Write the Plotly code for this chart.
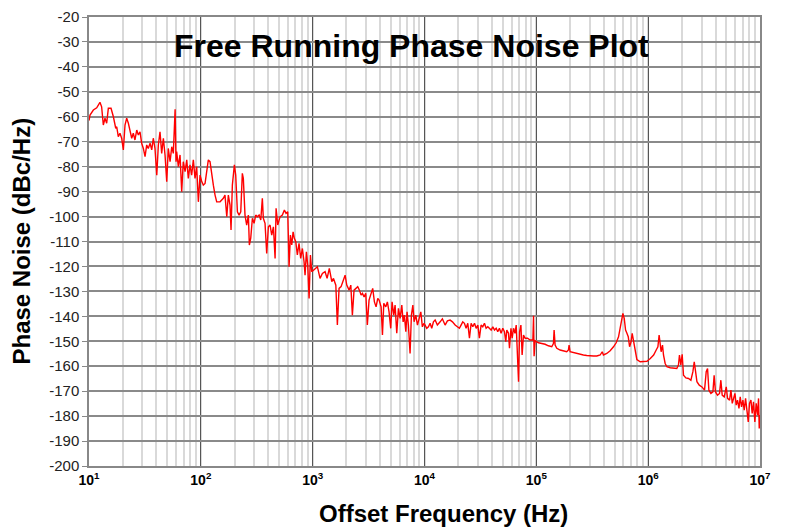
import plotly.graph_objects as go

# Offset frequency (Hz)
offset_hz = [
    10.0, 10.21, 10.94, 11.72, 12.53, 12.97, 13.43, 13.90, 14.39, 14.89,
    15.74, 16.52, 17.34, 17.70, 18.28, 18.92, 19.59, 20.28, 20.99, 21.73,
    22.49, 23.28, 24.10, 24.89, 25.76, 26.73, 27.61, 28.58, 29.58, 30.62,
    31.70, 32.81, 33.88, 35.16, 36.39, 37.58, 38.90, 40.36, 41.69, 43.15,
    44.67, 46.24, 47.86, 49.55, 51.17, 53.09, 54.95, 56.75, 58.88, 60.0,
    60.81, 62.95, 65.16, 67.45, 69.66, 72.28, 74.82, 77.27, 79.98, 82.79,
    85.70, 88.72, 91.83, 95.06, 98.40, 101.9, 105.2, 109.1, 113.0, 116.7,
    120.8, 125.0, 129.4, 134.0, 138.7, 148.6, 158.9, 164.4, 170.6, 176.2,
    182.4, 186.2, 191.4, 199.5, 205.1, 212.3, 219.8, 227.5, 235.0, 239.9,
    248.3, 257.0, 266.1, 271.6, 279.3, 289.1, 299.2, 309.7, 319.9, 331.9,
    343.6, 354.8, 362.2, 375.0, 388.1, 401.8, 415.9, 430.5, 445.6, 461.3,
    470.9, 487.5, 510.5, 535.8, 558.5, 578.1, 598.4, 615.2, 632.4, 650.1,
    668.3, 685.5, 706.3, 729.5, 755.1, 781.6, 809.1, 837.5, 855.1, 879.0,
    903.6, 929.0, 955.0, 981.7, 1050, 1102, 1164, 1222, 1291, 1346,
    1409, 1483, 1535, 1611, 1663, 1722, 1795, 1858, 1950, 2018,
    2118, 2193, 2265, 2344, 2427, 2529, 2618, 2710, 2786, 2884,
    2985, 3083, 3192, 3311, 3443, 3565, 3690, 3819, 3926, 4093,
    4207, 4325, 4508, 4656, 4819, 4989, 5129, 5309, 5458, 5649,
    5848, 6053, 6266, 6442, 6607, 6808, 6982, 7178, 7430, 7638,
    7870, 8072, 8356, 8650, 8954, 9268, 9572, 9908, 10120, 10470,
    10840, 11220, 11610, 12020, 12450, 13030, 13800, 14450, 15280, 16030,
    16940, 17780, 18790, 19680, 20510, 21230, 21980, 22750, 23550, 24380,
    25230, 26120, 27040, 27990, 28970, 29990, 30970, 32060, 33190, 34360,
    35560, 36810, 38110, 39450, 40830, 42270, 43750, 45190, 46770, 48420,
    50120, 51880, 53330, 54450, 56360, 57540, 59290, 60810, 62520, 64420,
    66070, 67450, 69340, 70790, 72780, 74650, 76740, 79430, 83370, 88100,
    93110, 94410, 95500, 97500, 100000, 104500, 111900, 119900, 128200, 137400,
    142200, 144200, 147200, 152400, 163300, 174600, 187100, 193600, 196300, 200400,
    214800, 230100, 246600, 263600, 282500, 302700, 324300, 347500, 372400, 388200,
    398100, 426600, 457100, 489800, 517600, 543300, 562300, 582100, 594300, 610900,
    628100, 645700, 663700, 682300, 703100, 719500, 741300, 765600, 792500, 849200,
    909900, 975000, 1045000, 1119000, 1180000, 1222000, 1253000, 1279000, 1306000, 1343000,
    1371000, 1419000, 1469000, 1574000, 1683000, 1803000, 1866000, 1905000, 1959000, 2014000,
    2070000, 2173000, 2296000, 2410000, 2512000, 2582000, 2655000, 2729000, 2864000, 3027000,
    3192000, 3304000, 3396000, 3491000, 3639000, 3793000, 3890000, 3999000, 4169000, 4345000,
    4467000, 4592000, 4786000, 4989000, 5129000, 5346000, 5495000, 5649000, 5808000, 5970000,
    6124000, 6295000, 6486000, 6653000, 6839000, 7031000, 7228000, 7430000, 7638000, 7852000,
    8054000, 8299000, 8511000, 8750000, 8995000, 9247000, 9506000, 9705000, 9840000, 10000000,
]

# Phase noise (dBc/Hz)
phase_noise = [
    -61.5, -59.3, -57.3, -56.4, -54.2, -56.0, -63.3, -60.6, -62.6, -56.6,
    -56.6, -60.0, -64.6, -64.0, -68.0, -66.6, -68.6, -73.3, -63.3, -60.6,
    -62.6, -66.0, -68.6, -66.6, -69.3, -65.3, -67.3, -66.0, -70.6, -72.7,
    -76.0, -71.3, -72.7, -70.6, -73.3, -68.6, -72.7, -83.4, -71.3, -66.0,
    -74.7, -68.6, -75.3, -86.0, -72.7, -78.0, -72.0, -74.7, -57.0, -78.0,
    -74.0, -80.0, -75.3, -90.0, -78.0, -82.0, -77.3, -84.7, -79.3, -83.4,
    -77.3, -84.7, -80.0, -94.1, -83.4, -86.0, -87.4, -86.7, -80.7, -77.3,
    -78.0, -83.4, -87.4, -91.4, -94.1, -94.1, -92.7, -91.4, -100.1, -91.4,
    -95.4, -105.4, -87.4, -79.3, -83.4, -98.1, -99.4, -98.1, -82.7, -84.7,
    -99.4, -103.4, -99.4, -111.4, -108.7, -100.7, -102.7, -99.4, -100.1, -99.4,
    -101.4, -92.7, -100.7, -102.7, -114.8, -104.1, -103.4, -107.4, -104.1, -116.8,
    -96.7, -103.4, -100.1, -99.4, -97.4, -98.7, -98.1, -120.1, -107.4, -111.4,
    -106.1, -108.7, -110.1, -115.4, -110.7, -116.8, -112.8, -118.1, -123.5, -114.1,
    -119.5, -132.8, -115.4, -122.1, -120.8, -120.1, -124.8, -122.8, -122.1, -124.8,
    -120.8, -126.1, -124.8, -127.5, -143.5, -128.8, -128.1, -126.1, -123.5, -127.5,
    -129.5, -127.5, -139.5, -129.5, -128.8, -128.1, -129.5, -131.5, -130.8, -132.2,
    -130.8, -143.5, -133.5, -131.5, -128.8, -134.2, -136.2, -132.8, -133.5, -136.2,
    -147.5, -134.8, -136.2, -134.2, -138.2, -144.8, -134.2, -139.5, -135.5, -146.8,
    -136.8, -140.8, -135.5, -142.2, -139.5, -146.2, -138.2, -143.5, -154.9, -139.5,
    -135.5, -142.2, -139.5, -143.5, -140.2, -138.2, -144.2, -142.8, -143.5, -144.8,
    -144.2, -142.8, -144.8, -142.2, -141.5, -143.5, -142.2, -141.0, -143.5, -141.8,
    -141.5, -142.2, -143.5, -144.2, -144.8, -143.5, -142.2, -142.8, -144.8, -142.8,
    -148.8, -142.8, -144.2, -142.8, -144.8, -143.5, -148.8, -143.5, -144.2, -142.8,
    -144.8, -144.2, -144.8, -145.5, -144.2, -145.5, -144.8, -146.2, -144.8, -146.8,
    -144.8, -146.2, -150.2, -145.5, -146.8, -152.8, -144.8, -148.8, -144.8, -146.8,
    -143.5, -152.8, -166.2, -146.2, -143.5, -155.5, -147.5, -148.8, -148.8, -149.5,
    -149.5, -139.8, -156.0, -149.8, -150.2, -150.6, -150.9, -151.2, -151.8, -152.2,
    -150.9, -145.5, -151.5, -152.8, -153.5, -153.9, -154.2, -153.5, -151.5, -154.2,
    -154.6, -154.9, -155.2, -155.5, -155.7, -155.9, -155.9, -155.9, -155.5, -154.2,
    -155.5, -154.9, -153.8, -152.2, -150.6, -148.2, -144.8, -140.8, -138.8, -140.8,
    -145.5, -146.8, -148.2, -152.2, -150.2, -146.8, -150.2, -154.9, -157.3, -158.2,
    -158.2, -158.0, -156.9, -155.5, -153.5, -152.2, -147.5, -150.2, -154.2, -151.5,
    -155.5, -158.9, -160.2, -160.6, -160.6, -160.9, -159.5, -155.5, -159.5, -155.2,
    -163.6, -164.7, -164.9, -165.6, -162.2, -158.2, -162.2, -166.2, -167.6, -168.3,
    -169.6, -162.2, -160.9, -169.6, -170.9, -170.3, -163.6, -170.3, -171.6, -170.9,
    -165.6, -171.6, -172.3, -168.3, -172.9, -173.6, -169.6, -174.9, -172.9, -170.9,
    -175.6, -173.6, -176.9, -172.3, -176.3, -173.6, -177.6, -172.9, -177.6, -182.3,
    -174.9, -173.6, -178.9, -174.3, -182.3, -174.9, -179.6, -172.9, -185.0, -179.6,
]

y_ticks = [-200, -190, -180, -170, -160, -150, -140, -130, -120, -110,
           -100, -90, -80, -70, -60, -50, -40, -30, -20]
y_tick_labels = [str(v) for v in y_ticks]

x_ticks = [10, 100, 1000, 10000, 100000, 1000000, 10000000]
x_tick_labels = ["10<sup>1</sup>", "10<sup>2</sup>", "10<sup>3</sup>", "10<sup>4</sup>",
                 "10<sup>5</sup>", "10<sup>6</sup>", "10<sup>7</sup>"]

title_text = "Free Running Phase Noise Plot"
x_title = "Offset Frequency (Hz)"
y_title = "Phase Noise (dBc/Hz)"

FONT = "Liberation Sans, Arial, Helvetica, sans-serif"

fig = go.Figure()
fig.add_trace(go.Scatter(
    x=offset_hz, y=phase_noise, mode="lines",
    line=dict(color="#ff0000", width=1.4),
    showlegend=False, hoverinfo="x+y",
))

fig.update_layout(
    width=783, height=519,
    margin=dict(l=81, r=31, t=9, b=61, autoexpand=False),
    paper_bgcolor="white", plot_bgcolor="white",
    font=dict(family=FONT, color="#222222"),
    xaxis=dict(
        type="log", range=[1, 7],
        tickvals=x_ticks, ticktext=x_tick_labels,
        showgrid=True, gridcolor="#555555", gridwidth=1.2,
        minor=dict(showgrid=True, gridcolor="#d9d9d9", gridwidth=1.5, dtick="D1"),
        showline=True, linecolor="#888888", linewidth=1.5, mirror=True,
        ticks="", tickfont=dict(family=FONT, size=14, color="#000000", weight="bold"),
        zeroline=False, automargin=False,
    ),
    yaxis=dict(
        range=[-200, -20], tickvals=y_ticks, ticktext=y_tick_labels,
        showgrid=True, gridcolor="#8a8a8a", gridwidth=2,
        showline=True, linecolor="#888888", linewidth=1.5, mirror=True,
        ticks="outside", ticklen=5, tickcolor="#888888", tickwidth=1.2,
        tickfont=dict(family=FONT, size=15, color="#222222"),
        zeroline=False, automargin=False,
    ),
    annotations=[
        dict(text=title_text, xref="paper", yref="paper", x=0.4806, y=0.9354,
             xanchor="center", yanchor="middle", showarrow=False,
             font=dict(family=FONT, size=32, color="#000000", weight="bold")),
        dict(text=x_title, xref="paper", yref="paper", x=0.529, y=-0.1047,
             xanchor="center", yanchor="middle", showarrow=False,
             font=dict(family=FONT, size=24, color="#000000", weight="bold")),
        dict(text=y_title, xref="paper", yref="paper", x=-0.1013, y=0.5,
             xanchor="center", yanchor="middle", showarrow=False, textangle=-90,
             font=dict(family=FONT, size=24, color="#000000", weight="bold")),
    ],
)

fig.write_html("out.html")
